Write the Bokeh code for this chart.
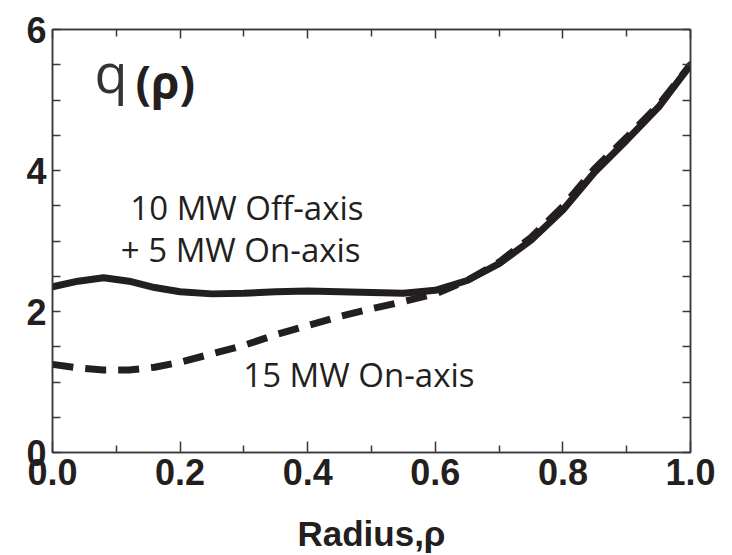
from bokeh.plotting import figure
from bokeh.models import (FixedTicker, LinearAxis, Range1d, Label, ColumnDataSource,
                          CustomJSTickFormatter)
from bokeh.embed import file_html
from bokeh.resources import INLINE

# Safety-factor profiles q(rho) for two heating scenarios
rho = [0.0, 0.04, 0.08, 0.12, 0.16, 0.20, 0.25, 0.30, 0.35, 0.40, 0.45, 0.50,
       0.55, 0.60, 0.65, 0.70, 0.75, 0.80, 0.85, 0.90, 0.95, 1.00]
q_off_axis = [2.35, 2.43, 2.48, 2.43, 2.34, 2.28, 2.25, 2.26, 2.28, 2.29, 2.28, 2.27,
              2.26, 2.30, 2.44, 2.68, 3.01, 3.44, 3.98, 4.43, 4.90, 5.50]
q_on_axis = [1.25, 1.20, 1.17, 1.17, 1.21, 1.28, 1.40, 1.52, 1.67, 1.80, 1.93, 2.04,
             2.14, 2.25, 2.44, 2.70, 3.05, 3.49, 4.03, 4.47, 4.93, 5.50]

x_ticks = [0.0, 0.2, 0.4, 0.6, 0.8, 1.0]
x_minor = [0.1, 0.3, 0.5, 0.7, 0.9]
y_ticks = [0, 2, 4, 6]
y_minor = [0.5, 1.0, 1.5, 2.5, 3.0, 3.5, 4.5, 5.0, 5.5]

INK = "#231f20"
FRAME = "#3a3838"
TICK_FONT = "Liberation Sans"
TEXT_FONT = "Open Sans"

p = figure(width=732, height=555, output_backend="svg", toolbar_location=None,
           x_range=Range1d(0, 1), y_range=Range1d(0, 6),
           min_border_left=52, min_border_right=42, min_border_top=29,
           min_border_bottom=102, x_axis_location=None, y_axis_location=None)
p.xgrid.visible = False
p.ygrid.visible = False
p.outline_line_color = FRAME
p.outline_line_width = 1.5
p.background_fill_color = "white"
p.border_fill_color = "white"


def make_axis(ticks, minor, major_len, minor_len, show_labels):
    ax = LinearAxis(ticker=FixedTicker(ticks=ticks, minor_ticks=minor))
    ax.axis_line_color = FRAME
    ax.axis_line_width = 1.5
    ax.major_tick_line_color = FRAME
    ax.minor_tick_line_color = FRAME
    ax.major_tick_line_width = 1.5
    ax.minor_tick_line_width = 1.5
    ax.major_tick_in = major_len
    ax.major_tick_out = 0
    ax.minor_tick_in = minor_len
    ax.minor_tick_out = 0
    if show_labels:
        ax.major_label_text_font = TICK_FONT
        ax.major_label_text_font_style = "bold"
        ax.major_label_text_font_size = "36px"
        ax.major_label_text_color = INK
        ax.major_label_standoff = 6
    else:
        ax.major_label_text_font_size = "10px"
        ax.major_label_text_color = None
        ax.major_label_standoff = 0
    return ax


bottom = make_axis(x_ticks, x_minor, 11, 7, True)
bottom.formatter = CustomJSTickFormatter(code="return tick.toFixed(1);")
bottom.axis_label = "Radius,\u03c1"
bottom.axis_label_text_font = TICK_FONT
bottom.axis_label_text_font_style = "bold"
bottom.axis_label_text_font_size = "35px"
bottom.axis_label_text_color = INK
bottom.axis_label_standoff = 26
left = make_axis(y_ticks, y_minor, 8, 8, True)
top = make_axis(x_ticks, x_minor, 9, 7, False)
right = make_axis(y_ticks, y_minor, 8, 8, False)
p.add_layout(bottom, "below")
p.add_layout(left, "left")
p.add_layout(top, "above")
p.add_layout(right, "right")

src = ColumnDataSource(dict(rho=rho, off=q_off_axis, on=q_on_axis))
p.line("rho", "on", source=src, line_color=INK, line_width=7,
       line_dash="21 12", line_cap="butt")
p.line("rho", "off", source=src, line_color=INK, line_width=7, line_cap="round")


def text(x, y, s, size, font=TEXT_FONT, style="normal", align="left", color=INK):
    p.add_layout(Label(x=x, y=y, text=s, text_font=font, text_font_size=size,
                       text_font_style=style, text_color=color, text_align=align,
                       text_baseline="alphabetic"))


text(0.122, 3.47, "10 MW Off-axis", "33px")
text(0.107, 2.88, "+ 5 MW On-axis", "33px")
text(0.299, 1.10, "15 MW On-axis", "33px")

# q(rho) title inside the frame
text(0.066, 5.40, "q", "54px", color="#333333")
text(0.130, 5.27, "(\u03c1)", "46px", style="bold", color=INK)

open("out.html", "w").write(file_html(p, INLINE))
